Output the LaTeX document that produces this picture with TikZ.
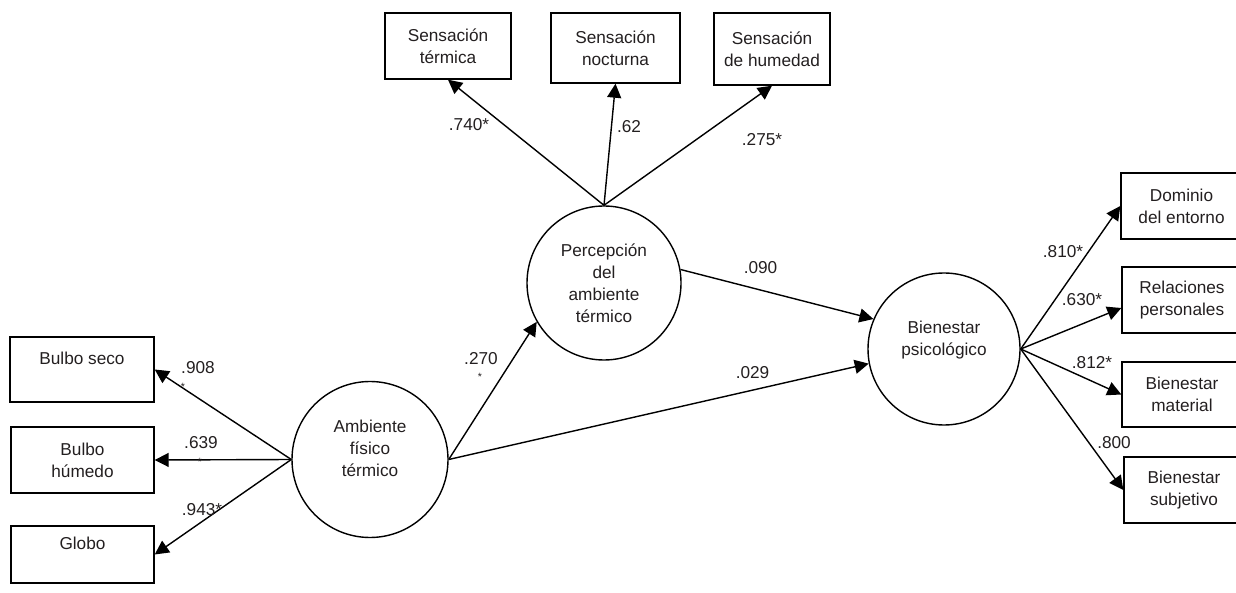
\documentclass[tikz,border=0pt]{standalone}
\usepackage{fontspec}
\setmainfont{Liberation Sans}
\usepackage{xcolor}
\usetikzlibrary{arrows.meta,calc}
\definecolor{ink}{HTML}{231F20}
\tikzset{
    obs/.style={draw, rectangle, line width=0.8pt, align=center, inner sep=0pt, text=ink},
    lat/.style={draw, circle, line width=0.8pt, align=center, inner sep=0pt, text=ink},
    path/.style={-{Triangle[length=2.8mm,width=2.8mm]}, line width=0.8pt},
    coef/.style={inner sep=0pt, text=ink},
    tinystar/.style={inner sep=0pt, text=ink, font=\fontsize{6}{6}\selectfont}
}

\begin{document}
\begin{tikzpicture}[x=0.2mm, y=-0.2mm, font=\fontsize{9.8}{12.5}\selectfont]
        \useasboundingbox (0,0) rectangle (1236,593);
        \clip (0,0) rectangle (1236,593);
        % latent variables
        \node [lat, minimum size=31.2mm] (amb) at (370, 459.5) {Ambiente\\físico\\térmico\\\mbox{}};
        \node [lat, minimum size=30.8mm] (per) at (604, 283) {Percepción\\del\\ambiente\\térmico};
        \node [lat, minimum size=30.4mm] (psi) at (944, 349) {Bienestar\\psicológico\\\mbox{}};
        % indicators
        \node [obs, minimum width=28.8mm, minimum height=13mm] (seco) at (82, 369.5) {Bulbo seco\\\mbox{}};
        \node [obs, minimum width=28.6mm, minimum height=13.2mm] (hume) at (82.5, 460) {Bulbo\\húmedo};
        \node [obs, minimum width=28.6mm, minimum height=11.4mm] (glob) at (82.5, 554.5) {Globo\\\mbox{}};
        \node [obs, minimum width=25.2mm, minimum height=13.2mm] (ster) at (448, 46) {Sensación\\térmica};
        \node [obs, minimum width=25.8mm, minimum height=14mm] (snoc) at (615.5, 48) {Sensación\\nocturna};
        \node [obs, minimum width=23.2mm, minimum height=14.4mm] (shum) at (772, 49) {Sensación\\de humedad};
        \node [obs, minimum width=24.2mm, minimum height=13.2mm] (dom) at (1181.5, 206) {Dominio\\del entorno};
        \node [obs, minimum width=24mm, minimum height=13.2mm] (rel) at (1182, 300) {Relaciones\\personales};
        \node [obs, minimum width=24mm, minimum height=13mm] (mat) at (1182, 394.5) {Bienestar\\material};
        \node [obs, minimum width=24mm, minimum height=13.2mm] (sub) at (1184, 490) {Bienestar\\subjetivo};
        % paths
        \foreach \ind in {seco, hume, glob}{
                \draw [path] (amb.west) -- (\ind.east);
            }
        \foreach \ind in {ster, snoc, shum}{
                \draw [path] (per.north) -- (\ind.south);
            }
        \draw [path] (psi.east) -- (dom.west);
        \draw [path] (psi.east) -- ($(rel.west)+(0,8)$);
        \draw [path] (psi.east) -- (mat.west);
        \draw [path] (psi.east) -- (sub.west);
        \draw [path] (amb.east) -- (per.210);
        \draw [path] (amb.east) -- (psi.191);
        \draw [path] (per.10) -- (psi.157);
        % coefficients
        \node [coef] (c1) at (198, 368) {.908};
        \node [tinystar] (s1) at (183, 387) {*};
        \node [coef] (c2) at (201, 443) {.639};
        \node [tinystar] (s2) at (200, 462) {*};
        \node [coef] (c3) at (202, 510) {.943*};
        \node [coef] (c4) at (481, 359) {.270};
        \node [tinystar] (s4) at (480, 377) {*};
        \node [coef] (c5) at (469, 125) {.740*};
        \node [coef] (c6) at (629, 127) {.62};
        \node [coef] (c7) at (762, 140) {.275*};
        \node [coef] (c8) at (760.5, 268) {.090};
        \node [coef] (c9) at (752.5, 373) {.029};
        \node [coef] (c10) at (1063, 252) {.810*};
        \node [coef] (c11) at (1082, 300) {.630*};
        \node [coef] (c12) at (1092, 363) {.812*};
        \node [coef] (c13) at (1114, 443) {.800};
    \end{tikzpicture}
\end{document}
